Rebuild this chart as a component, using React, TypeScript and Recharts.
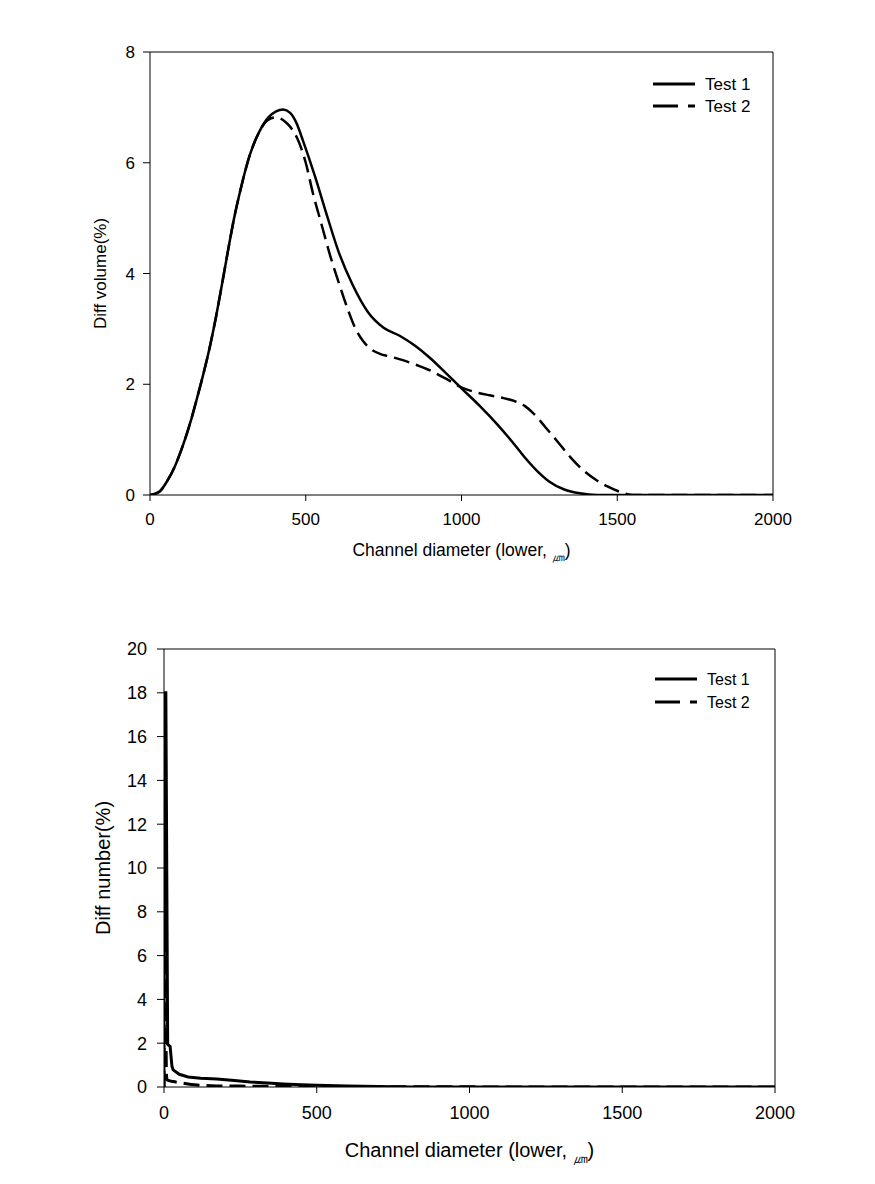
import React from 'react';
import { LineChart, Line, XAxis, YAxis, ReferenceLine } from 'recharts';

const FONT = '"Liberation Sans", Arial, Helvetica, sans-serif';

// ---- Top chart: Diff volume (%) ----
const volXTicks = [0, 500, 1000, 1500, 2000];
const volYTicks = [0, 2, 4, 6, 8];

const test1VolX = [0, 30, 55, 80, 106, 130, 151, 172, 193, 212, 231, 250, 270, 290, 321, 350, 380, 405, 427, 450, 470, 491, 530, 568, 605, 650, 700, 750, 800, 850, 900, 950, 1005, 1060, 1114, 1160, 1200, 1240, 1280, 1330, 1380, 1435, 2000];
const test1VolY = [0, 0.06, 0.25, 0.52, 0.9, 1.32, 1.75, 2.2, 2.7, 3.22, 3.8, 4.4, 5.0, 5.5, 6.15, 6.55, 6.82, 6.93, 6.96, 6.9, 6.72, 6.4, 5.75, 5.05, 4.4, 3.8, 3.3, 3.02, 2.88, 2.7, 2.47, 2.2, 1.9, 1.6, 1.28, 0.98, 0.7, 0.45, 0.25, 0.1, 0.03, 0, 0];

const test2VolX = [0, 30, 55, 80, 106, 130, 151, 172, 193, 212, 231, 250, 270, 290, 321, 350, 375, 401, 430, 450, 472, 500, 523, 550, 578, 605, 632, 660, 684, 710, 738, 770, 803, 850, 899, 950, 1005, 1050, 1091, 1135, 1178, 1205, 1230, 1270, 1306, 1350, 1390, 1430, 1467, 1518, 1550, 2000];
const test2VolY = [0, 0.06, 0.25, 0.52, 0.9, 1.32, 1.75, 2.2, 2.7, 3.22, 3.8, 4.4, 5.0, 5.5, 6.15, 6.55, 6.76, 6.82, 6.76, 6.65, 6.45, 6.0, 5.45, 4.9, 4.33, 3.85, 3.4, 3.0, 2.78, 2.63, 2.55, 2.5, 2.45, 2.36, 2.25, 2.1, 1.93, 1.85, 1.8, 1.75, 1.68, 1.6, 1.48, 1.22, 0.98, 0.68, 0.45, 0.28, 0.16, 0.04, 0, 0];

// ---- Bottom chart: Diff number (%) ----
const numXTicks = [0, 500, 1000, 1500, 2000];
const numYTicks = [0, 2, 4, 6, 8, 10, 12, 14, 16, 18, 20];

const test1NumX = [0, 1, 6, 12, 20, 26, 30, 50, 79, 120, 173, 230, 282, 340, 390, 450, 500, 600, 700, 800, 2000];
const test1NumY = [0, 18, 18, 1.95, 1.85, 0.95, 0.78, 0.58, 0.46, 0.4, 0.36, 0.3, 0.23, 0.18, 0.14, 0.1, 0.08, 0.04, 0.02, 0, 0];

const test2NumX = [0, 3, 8, 10, 30, 62, 100, 173, 250, 350, 500, 700, 2000];
const test2NumY = [0, 8.7, 0.6, 0.32, 0.25, 0.18, 0.1, 0.05, 0.04, 0.03, 0.02, 0.01, 0];

const seriesNames = ['Test 1', 'Test 2'];
const xLabelText = 'Channel diameter (lower, ';
const unitText = '㎛';

const zip = (xs: number[], ys: number[]) => xs.map((x, i) => ({ x, y: ys[i] }));

const makeXLabel = (fontSize: number, offset: number) => (props: any) => {
  const vb = props.viewBox || {};
  const cx = vb.x + vb.width / 2;
  const y = vb.y + offset;
  return (
    <text x={cx} y={y} textAnchor="middle" fontFamily={FONT} fontSize={fontSize} fill="#000">
      {xLabelText}
      <tspan fontSize={fontSize * 0.75} dy={fontSize * 0.3}>{unitText}</tspan>
      <tspan dy={-fontSize * 0.3}>)</tspan>
    </text>
  );
};

const makeYLabel = (text: string, fontSize: number, cxAbs: number) => (props: any) => {
  const vb = props.viewBox || {};
  const cy = vb.y + vb.height / 2;
  return (
    <text
      x={cxAbs}
      y={cy}
      textAnchor="middle"
      dominantBaseline="central"
      fontFamily={FONT}
      fontSize={fontSize}
      fill="#000"
      transform={`rotate(-90, ${cxAbs}, ${cy})`}
    >
      {text}
    </text>
  );
};

function LegendBox({ left, top, fontSize, gap }: { left: number; top: number; fontSize: number; gap: number }) {
  return (
    <svg width={140} height={50} style={{ position: 'absolute', left, top, display: 'block' }}>
      <line x1={8} x2={50} y1={10} y2={10} stroke="#000" strokeWidth={3} />
      <text x={60} y={10} dominantBaseline="central" fontFamily={FONT} fontSize={fontSize} fill="#000">{seriesNames[0]}</text>
      <line x1={8} x2={50} y1={10 + gap} y2={10 + gap} stroke="#000" strokeWidth={3} strokeDasharray="25 10 7" />
      <text x={60} y={10 + gap} dominantBaseline="central" fontFamily={FONT} fontSize={fontSize} fill="#000">{seriesNames[1]}</text>
    </svg>
  );
}

function VolumeChart() {
  return (
    <LineChart width={875} height={590} margin={{ top: 52, right: 102, bottom: 35, left: 0 }}>
      <XAxis
        dataKey="x"
        type="number"
        domain={[0, 2000]}
        ticks={volXTicks}
        allowDataOverflow
        stroke="#000"
        tickSize={6}
        tickMargin={12}
        height={60}
        tick={{ fontSize: 17, fill: '#000', fontFamily: FONT }}
        label={{ content: makeXLabel(17.5, 61) }}
      />
      <YAxis
        dataKey="y"
        type="number"
        domain={[0, 8]}
        ticks={volYTicks}
        allowDataOverflow
        stroke="#000"
        width={150}
        tickSize={7}
        tickMargin={8}
        tick={{ fontSize: 17, fill: '#000', fontFamily: FONT }}
        label={{ content: makeYLabel('Diff volume(%)', 17, 100) }}
      />
      <ReferenceLine y={8} stroke="#000" strokeWidth={1} />
      <ReferenceLine x={2000} stroke="#000" strokeWidth={1} />
      <Line data={zip(test1VolX, test1VolY)} dataKey="y" name={seriesNames[0]} type="monotone" stroke="#000" strokeWidth={2.5} dot={false} isAnimationActive={false} />
      <Line data={zip(test2VolX, test2VolY)} dataKey="y" name={seriesNames[1]} type="monotone" stroke="#000" strokeWidth={2.5} strokeDasharray="16 7" dot={false} isAnimationActive={false} />
    </LineChart>
  );
}

function NumberChart() {
  return (
    <LineChart width={875} height={584} margin={{ top: 49, right: 100, bottom: 37, left: 0 }}>
      <XAxis
        dataKey="x"
        type="number"
        domain={[0, 2000]}
        ticks={numXTicks}
        allowDataOverflow
        stroke="#000"
        tickSize={6}
        tickMargin={13}
        height={60}
        tick={{ fontSize: 18, fill: '#000', fontFamily: FONT }}
        label={{ content: makeXLabel(20, 70) }}
      />
      <YAxis
        dataKey="y"
        type="number"
        domain={[0, 20]}
        ticks={numYTicks}
        allowDataOverflow
        stroke="#000"
        width={164}
        tickSize={7}
        tickMargin={10}
        tick={{ fontSize: 18, fill: '#000', fontFamily: FONT }}
        label={{ content: makeYLabel('Diff number(%)', 20, 103) }}
      />
      <ReferenceLine y={20} stroke="#000" strokeWidth={1} />
      <ReferenceLine x={2000} stroke="#000" strokeWidth={1} />
      <Line data={zip(test1NumX, test1NumY)} dataKey="y" name={seriesNames[0]} type="linear" stroke="#000" strokeWidth={3} dot={false} isAnimationActive={false} />
      <Line data={zip(test2NumX, test2NumY)} dataKey="y" name={seriesNames[1]} type="monotone" stroke="#000" strokeWidth={3} strokeDasharray="16 7" dot={false} isAnimationActive={false} />
    </LineChart>
  );
}

export default function App() {
  return (
    <div style={{ position: 'absolute', top: 0, left: 0, width: 875, height: 1184, background: '#fff' }}>
      <div style={{ position: 'absolute', top: 0, left: 0 }}>
        <VolumeChart />
      </div>
      <div style={{ position: 'absolute', top: 600, left: 0 }}>
        <NumberChart />
      </div>
      <LegendBox left={645} top={74} fontSize={17} gap={22} />
      <LegendBox left={647} top={669} fontSize={16} gap={23} />
    </div>
  );
}
